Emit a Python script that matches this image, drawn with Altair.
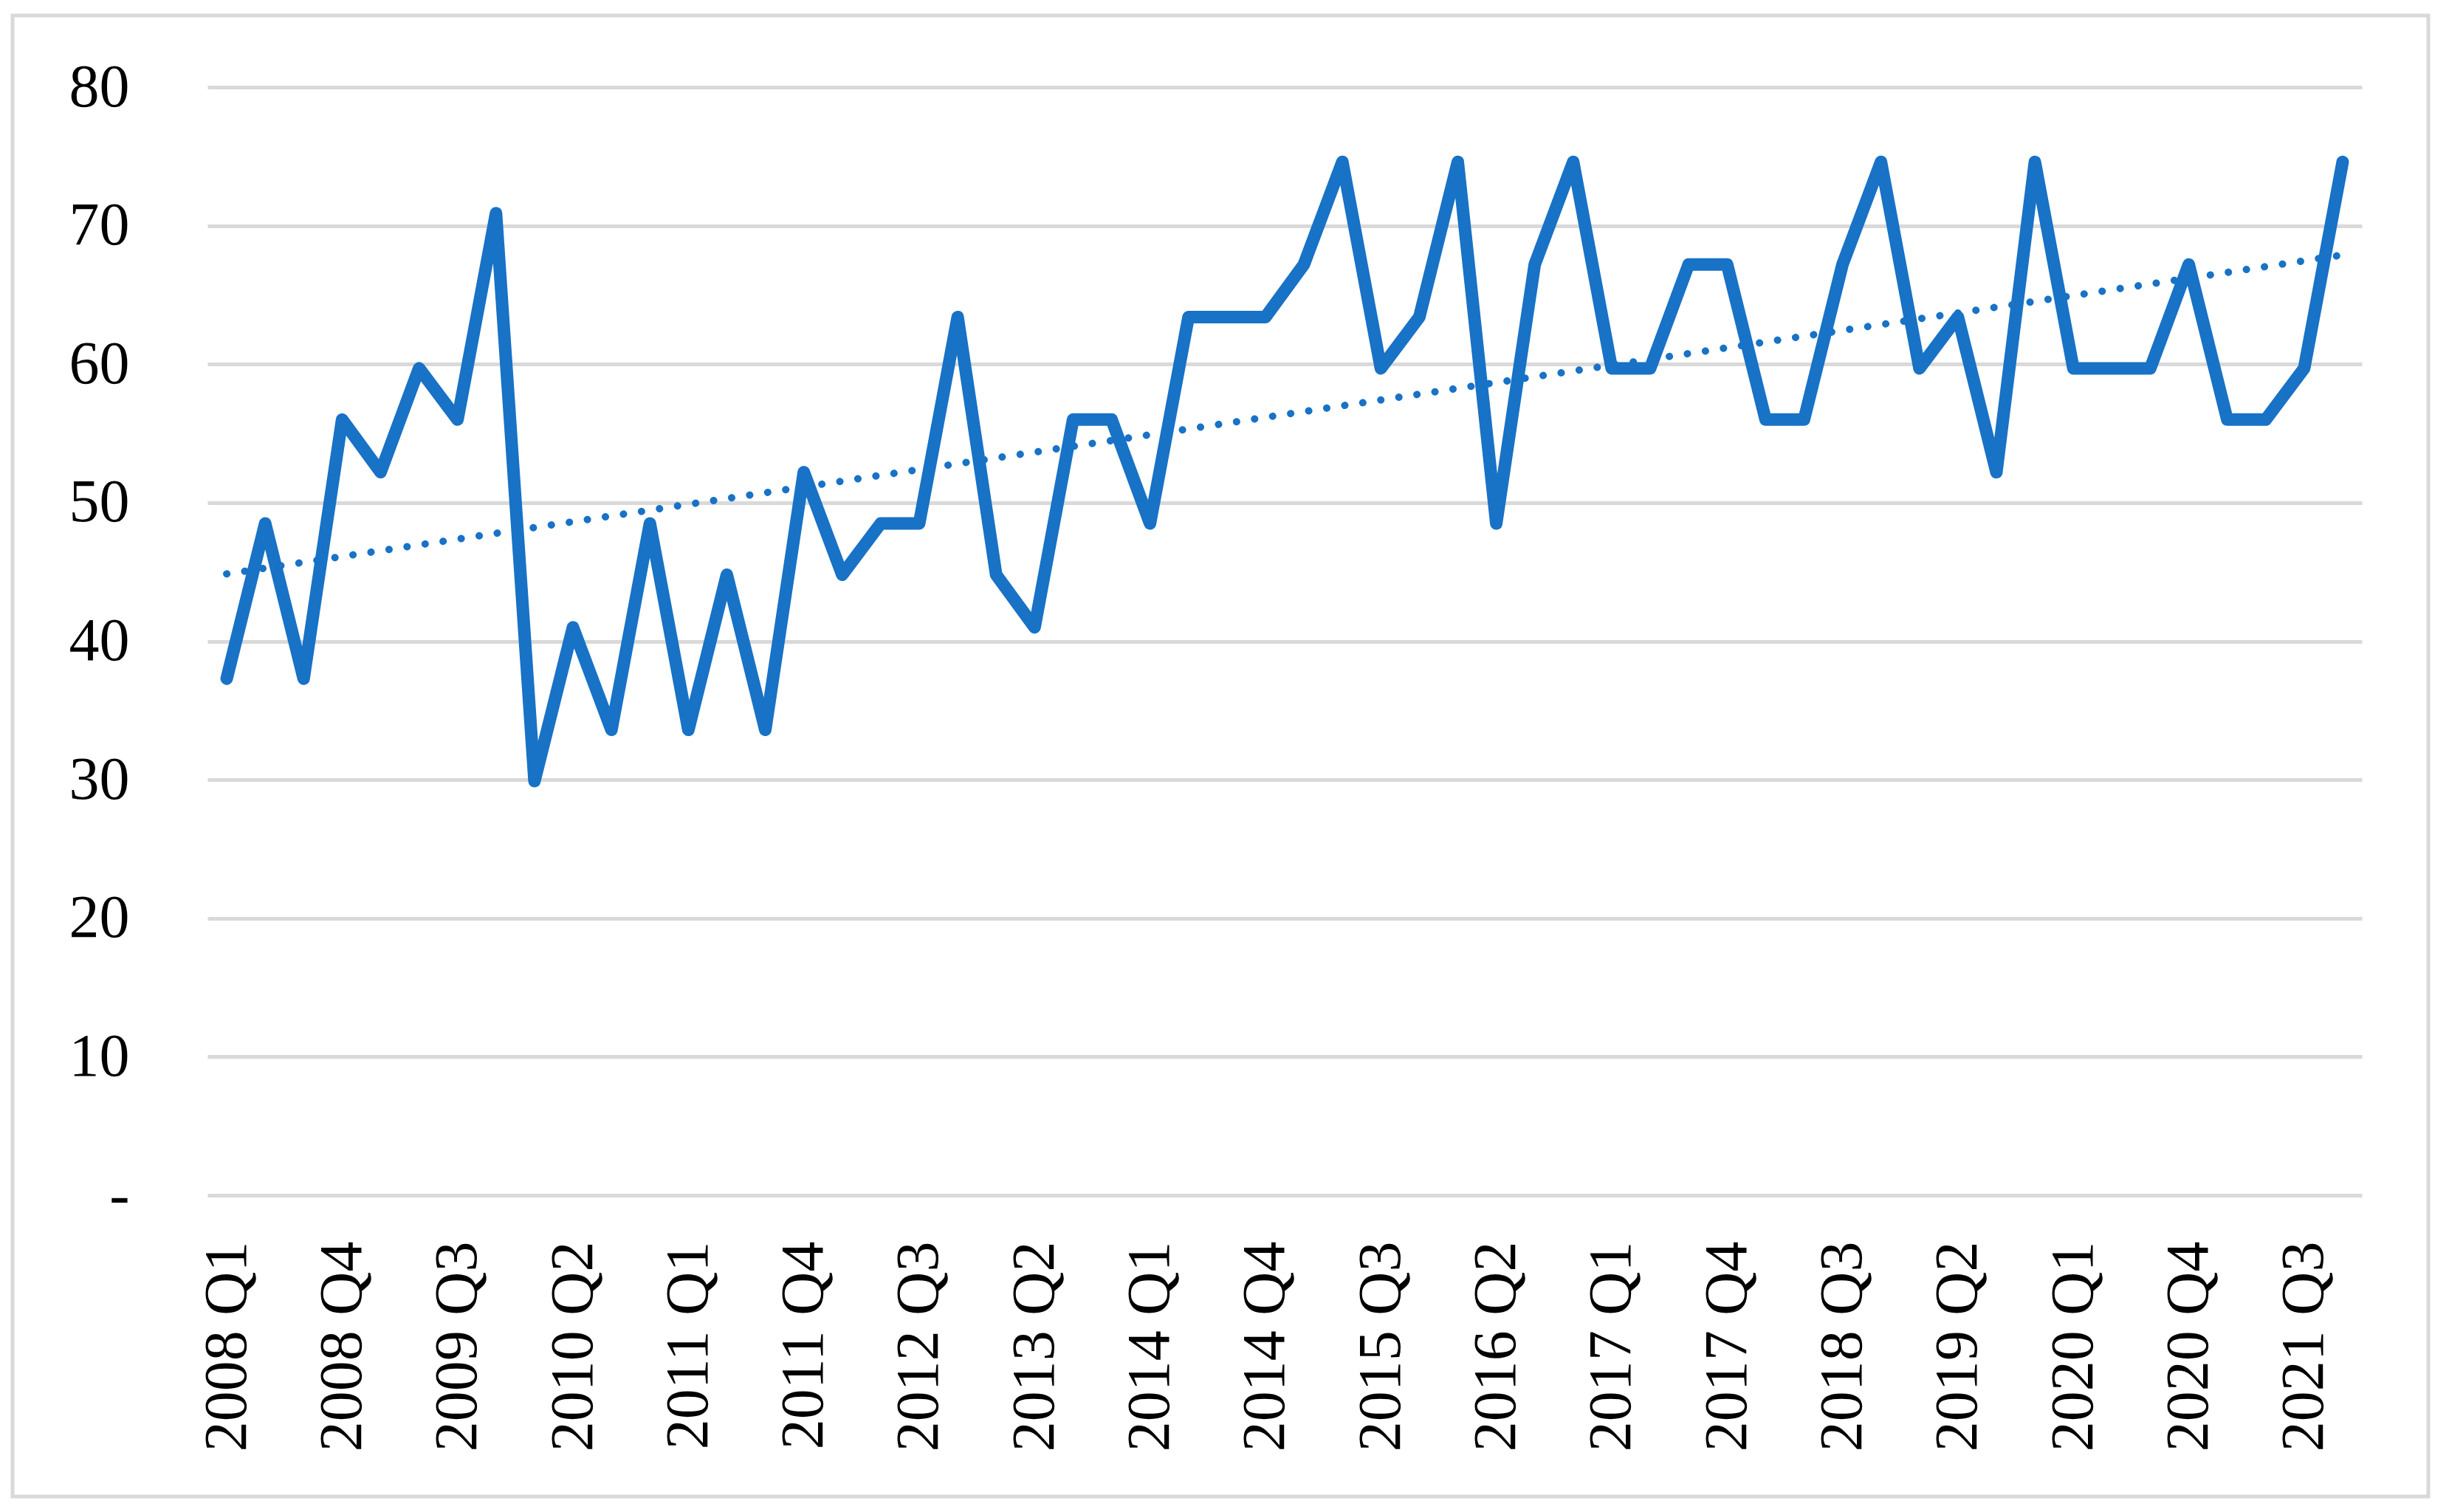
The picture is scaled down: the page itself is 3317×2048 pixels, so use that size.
import altair as alt
import pandas as pd

years = list(range(2008, 2022))
quarters = ["Q1", "Q2", "Q3", "Q4"]
quarter_labels = [f"{y} {q}" for y in years for q in quarters]

values = [
    37.3, 48.5, 37.3, 56.0, 52.2, 59.7, 56.0, 70.9,
    29.9, 41.0, 33.6, 48.5, 33.6, 44.8, 33.6, 52.2,
    44.8, 48.5, 48.5, 63.4, 44.8, 41.0, 56.0, 56.0,
    48.5, 63.4, 63.4, 63.4, 67.2, 74.6, 59.7, 63.4,
    74.6, 48.5, 67.2, 74.6, 59.7, 59.7, 67.2, 67.2,
    56.0, 56.0, 67.2, 74.6, 59.7, 63.4, 52.2, 74.6,
    59.7, 59.7, 59.7, 67.2, 56.0, 56.0, 59.7, 74.6,
]

y_ticks = [0, 10, 20, 30, 40, 50, 60, 70, 80]
x_tick_idx = list(range(0, len(quarter_labels), 3))

df = pd.DataFrame({"i": list(range(len(values))), "label": quarter_labels, "value": values})

BLUE = "#1872C6"
GRID = "#D9D9D9"
FONT = "Liberation Serif"
W, H = 2918, 1501

label_arr = "[" + ",".join(f"'{l}'" for l in quarter_labels) + "]"

x_enc = alt.X(
    "i:Q",
    scale=alt.Scale(domain=[-0.5, len(values) - 0.5], nice=False, zero=False),
    axis=alt.Axis(
        values=x_tick_idx,
        labelExpr=f"{label_arr}[datum.value]",
        labelAngle=270,
        labelFont=FONT,
        labelFontSize=82,
        labelColor="#000000",
        labelPadding=62,
        labelOverlap=False,
        labelFlush=False,
        labelLimit=0,
        ticks=False,
        tickSize=0,
        domain=False,
        grid=False,
        title=None,
    ),
)

y_enc = alt.Y(
    "value:Q",
    scale=alt.Scale(domain=[0, 80], nice=False),
    axis=alt.Axis(
        values=y_ticks,
        labelExpr="datum.value == 0 ? '-\u00a0\u00a0' : datum.label",
        labelFont=FONT,
        labelFontSize=82,
        labelColor="#000000",
        labelPadding=106,
        ticks=False,
        tickSize=0,
        domain=False,
        grid=True,
        gridColor=GRID,
        gridWidth=5,
        title=None,
    ),
)

base = alt.Chart(df)

line = base.mark_line(
    color=BLUE, strokeWidth=17, strokeJoin="round", strokeCap="round"
).encode(x=x_enc, y=y_enc)

trend = base.transform_regression("i", "value", method="linear").mark_line(
    color=BLUE, strokeWidth=10, strokeCap="round", strokeDash=[0.1, 24.6]
).encode(x=alt.X("i:Q"), y=alt.Y("value:Q"))

frame = alt.Chart(alt.Data(values=[{"a": 1}])).mark_rect(
    filled=False, stroke=GRID, strokeWidth=5
).encode(
    x=alt.value(-264), x2=alt.value(3008), y=alt.value(-97), y2=alt.value(1909)
)

chart = alt.layer(line, trend, frame).properties(
    width=W,
    height=H,
    padding={"left": 6, "top": 10, "right": 0, "bottom": 0},
    background="white",
).configure_view(stroke=None)

chart.save("out.html", embed_options={"renderer": "svg", "actions": False})
